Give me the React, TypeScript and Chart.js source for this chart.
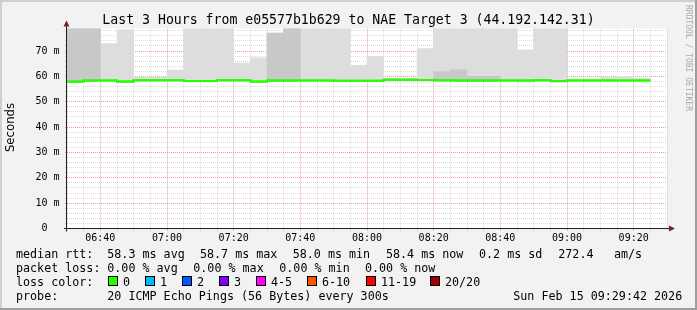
import React, { useEffect, useRef } from "react";
import { Chart, registerables } from "chart.js";

Chart.register(...registerables);

// ---- data ----
const binStarts = [
  "06:30", "06:35", "06:40", "06:45", "06:50", "06:55",
  "07:00", "07:05", "07:10", "07:15", "07:20", "07:25",
  "07:30", "07:35", "07:40", "07:45", "07:50", "07:55",
  "08:00", "08:05", "08:10", "08:15", "08:20", "08:25",
  "08:30", "08:35", "08:40", "08:45", "08:50", "08:55",
  "09:00", "09:05", "09:10", "09:15", "09:20",
];
const medianMs = [
  58.0, 58.4, 58.4, 58.0, 58.5, 58.5, 58.5, 58.2, 58.2, 58.5, 58.5, 58.0,
  58.4, 58.4, 58.4, 58.4, 58.3, 58.3, 58.3, 58.7, 58.7, 58.6, 58.5, 58.4,
  58.4, 58.4, 58.4, 58.4, 58.5, 58.2, 58.4, 58.4, 58.4, 58.4, 58.4,
];
const smokeLowMs = [
  57.5, 58.0, 58.0, 57.5, 58.1, 58.1, 58.1, 57.8, 57.8, 58.1, 58.1, 57.5,
  58.0, 58.0, 58.0, 58.0, 57.9, 57.9, 57.9, 58.3, 58.3, 58.2, 58.1, 58.0,
  58.0, 58.0, 58.0, 57.7, 58.0, 57.5, 58.0, 58.0, 58.0, 58.0, 58.0,
];
// outer smoke (max ping); values above the scale top are clipped
const smokeHighMs = [
  95, 95, 73.0, 78.4, 59.6, 59.6, 62.5, 95, 95, 95, 65.3, 67.3,
  77.1, 95, 95, 95, 95, 64.4, 67.9, 59.4, 59.4, 71.0, 95, 95,
  95, 95, 95, 70.5, 95, 95, 59.0, 59.0, 59.6, 60.0, 59.2,
];
// inner (dense) smoke
const smokeCoreMs: (number | null)[] = [
  95, 95, null, null, null, null, null, null, null, null, null, null,
  77.1, 95, null, null, null, null, null, null, null, null, 61.9, 62.6,
  60.0, 60.0, null, null, null, null, null, null, null, null, null,
];
const xTickLabels = ["06:40", "07:00", "07:20", "07:40", "08:00", "08:20", "08:40", "09:00", "09:20"];
const yTickValues = [0, 10, 20, 30, 40, 50, 60, 70];
const yTickLabels = ["0", "10 m", "20 m", "30 m", "40 m", "50 m", "60 m", "70 m"];
const Y_MAX = 78.9;
const RANGE_START = "06:30";
const RANGE_END = "09:30";
const BIN_MIN = 5;

const titleText = "Last 3 Hours from e05577b1b629 to NAE Target 3 (44.192.142.31)";
const rttRow: [string, number][] = [
  ["median rtt:", 16], ["58.3 ms avg", 107.3], ["58.7 ms max", 200], ["58.0 ms min", 292.7],
  ["58.4 ms now", 386], ["0.2 ms sd", 479], ["272.4", 558.3], ["am/s", 614],
];
const lossRow: [string, number][] = [
  ["packet loss:", 16], ["0.00 % avg", 107.3], ["0.00 % max", 193.3], ["0.00 % min", 279.3], ["0.00 % now", 365],
];
const lossColorLabels = ["0", "1", "2", "3", "4-5", "6-10", "11-19", "20/20"];
const lossColors = ["#26ff00", "#00b8ff", "#0059ff", "#7e00ff", "#ff00ff", "#ff5500", "#ff0000", "#a10000"];
const lossBoxX = [108, 145, 182, 219, 256, 307, 366, 430];
const probeRow: [string, number][] = [
  ["probe:", 16], ["20 ICMP Echo Pings (56 Bytes) every 300s", 107.3], ["Sun Feb 15 09:29:42 2026", 513.3],
];

const MONO = '"DejaVu Sans Mono", monospace';
const SANS = '"DejaVu Sans", sans-serif';

const startMin = (() => { const [h, m] = RANGE_START.split(":").map(Number); return h * 60 + m; })();
const toMin = (s: string) => { const [h, m] = s.split(":").map(Number); return h * 60 + m - startMin; };
const fromMin = (v: number) => {
  const t = Math.round(v) + startMin;
  const h = Math.floor(t / 60), m = t % 60;
  return String(h).padStart(2, "0") + ":" + String(m).padStart(2, "0");
};

const GRID = "rgba(143,143,143,0.32)";
const MGRID = "rgba(222,80,80,0.55)";

export default function App() {
  const ref = useRef<HTMLCanvasElement | null>(null);
  useEffect(() => {
    const canvas = ref.current!;
    const lineData = binStarts.map((b, i) => ({ x: toMin(b), y: medianMs[i] }));
    lineData.push({ x: toMin(binStarts[binStarts.length - 1]) + BIN_MIN, y: medianMs[medianMs.length - 1] });
    const lightData = binStarts.map((b, i) => ({ x: toMin(b) + BIN_MIN / 2, y: [smokeLowMs[i], smokeHighMs[i]] }));
    const darkData = binStarts
      .map((b, i) => (smokeCoreMs[i] == null ? null : { x: toMin(b) + BIN_MIN / 2, y: [smokeLowMs[i], smokeCoreMs[i] as number] }))
      .filter(Boolean);

    const decor = {
      id: "rrdDecor",
      beforeDraw(chart: any) {
        const c = chart.ctx;
        const a = chart.chartArea;
        c.save();
        c.fillStyle = "#f2f2f2";
        c.fillRect(0, 0, chart.width, chart.height);
        c.fillStyle = "#ffffff";
        c.fillRect(a.left, a.top, a.right - a.left, a.bottom - a.top);
        c.restore();
      },
      afterDraw(chart: any) {
        const c = chart.ctx;
        const a = chart.chartArea;
        // median line over grid
        chart.getDatasetMeta(0).controller.draw();
        c.save();
        // axes
        c.strokeStyle = "#1f1f1f";
        c.lineWidth = 1;
        const ay = Math.round(a.bottom) - 0.5;
        c.beginPath();
        c.moveTo(a.left - 3, ay);
        c.lineTo(a.right + 3, ay);
        c.moveTo(a.left - 0.5, a.bottom + 3);
        c.lineTo(a.left - 0.5, a.top - 3);
        c.stroke();
        // arrows
        c.fillStyle = "#7f1f1f";
        c.beginPath();
        c.moveTo(a.left - 0.5, a.top - 8);
        c.lineTo(a.left - 3.5, a.top - 2);
        c.lineTo(a.left + 2.5, a.top - 2);
        c.closePath();
        c.fill();
        c.beginPath();
        c.moveTo(a.right + 8, ay);
        c.lineTo(a.right + 2, ay - 3);
        c.lineTo(a.right + 2, ay + 3);
        c.closePath();
        c.fill();
        // title
        c.fillStyle = "#000";
        c.font = `13.2px ${MONO}`;
        c.textAlign = "center";
        c.textBaseline = "alphabetic";
        c.fillText(titleText, 348.5, 24);
        // y unit
        c.save();
        c.translate(10.5, 127.5);
        c.rotate(-Math.PI / 2);
        c.font = `11.7px ${SANS}`;
        c.textBaseline = "middle";
        c.fillText("Seconds", 0, 0);
        c.restore();
        // watermark
        c.save();
        c.translate(688, 5);
        c.rotate(Math.PI / 2);
        c.font = `8px ${MONO}`;
        c.fillStyle = "#a8a8a8";
        c.textAlign = "left";
        c.textBaseline = "middle";
        c.fillText("RRDTOOL / TOBI OETIKER", 0, 0);
        c.restore();
        // legend
        c.font = `11.7px ${MONO}`;
        c.textAlign = "left";
        c.fillStyle = "#000";
        rttRow.forEach(([t, x]) => c.fillText(t, x, 258));
        lossRow.forEach(([t, x]) => c.fillText(t, x, 272));
        c.fillText("loss color:", 16, 286);
        lossColorLabels.forEach((t, i) => {
          const x = lossBoxX[i];
          c.fillStyle = lossColors[i];
          c.fillRect(x + 0.5, 276.5, 9, 9);
          c.strokeStyle = "#000";
          c.strokeRect(x + 0.5, 276.5, 9, 9);
          c.fillStyle = "#000";
          c.fillText(t, x + 15, 286);
        });
        probeRow.forEach(([t, x]) => c.fillText(t, x, 300));
        // frame shading
        c.fillStyle = "#cfcfcf";
        c.fillRect(0, 0, chart.width, 2);
        c.fillRect(0, 0, 2, chart.height);
        c.fillStyle = "#9e9e9e";
        c.fillRect(0, chart.height - 2, chart.width, 2);
        c.fillRect(chart.width - 2, 0, 2, chart.height);
        c.restore();
      },
    };

    const chart = new Chart(canvas, {
      type: "bar",
      data: {
        datasets: [
          {
            type: "line",
            data: lineData,
            borderColor: "#26ff00",
            borderWidth: 2,
            stepped: "before",
            pointRadius: 0,
            fill: false,
            order: 0,
          } as any,
          {
            type: "bar",
            data: darkData as any,
            backgroundColor: "#c8c8c8",
            borderWidth: 0,
            grouped: false,
            barPercentage: 1,
            categoryPercentage: 1,
            order: 1,
          } as any,
          {
            type: "bar",
            data: lightData as any,
            backgroundColor: "#dddddd",
            borderWidth: 0,
            grouped: false,
            barPercentage: 1,
            categoryPercentage: 1,
            order: 2,
          } as any,
        ],
      },
      options: {
        animation: false,
        responsive: false,
        devicePixelRatio: 1,
        events: [],
        layout: { padding: { left: 0, top: 28.5, right: 30, bottom: 0 } },
        plugins: { legend: { display: false }, tooltip: { enabled: false }, title: { display: false } },
        scales: {
          x: {
            type: "linear",
            min: 0,
            max: toMin(RANGE_END),
            offset: false,
            z: 1,
            grid: {
              offset: false,
              drawTicks: true,
              tickLength: 2,
              color: (ctx: any) => {
                const v = ctx.tick ? ctx.tick.value : 0;
                return xTickLabels.includes(fromMin(v)) ? MGRID : GRID;
              },
            },
            border: { display: false, dash: [1, 1] },
            ticks: {
              stepSize: BIN_MIN,
              autoSkip: false,
              maxRotation: 0,
              minRotation: 0,
              padding: 2,
              color: "#000",
              font: { family: MONO, size: 10 },
              callback: (v: any) => {
                const t = fromMin(Number(v));
                return xTickLabels.includes(t) ? t : "";
              },
            },
            afterFit: (s: any) => { s.height = 310 - 228.5; },
          },
          y: {
            type: "linear",
            min: 0,
            max: Y_MAX,
            z: 1,
            grid: {
              drawTicks: true,
              tickLength: 2,
              color: (ctx: any) => {
                const v = ctx.tick ? ctx.tick.value : 0;
                return yTickValues.some((t) => Math.abs(t - v) < 1e-6) ? MGRID : GRID;
              },
            },
            border: { display: false, dash: [1, 1] },
            ticks: {
              stepSize: 2,
              includeBounds: false,
              autoSkip: false,
              padding: 5.5,
              color: "#000",
              font: { family: MONO, size: 10 },
              callback: (v: any) => {
                const i = yTickValues.findIndex((t) => Math.abs(t - Number(v)) < 1e-6);
                if (i < 0) return "";
                const l = yTickLabels[i];
                return l.length < 3 ? l + "  " : l;
              },
            },
            afterFit: (s: any) => { s.width = 67; },
          },
        },
      } as any,
      plugins: [decor],
    });
    return () => chart.destroy();
  }, []);

  return (
    <div style={{ position: "absolute", left: 0, top: 0, width: 697, height: 310 }}>
      <canvas ref={ref} width={697} height={310} style={{ display: "block", width: 697, height: 310 }} />
    </div>
  );
}
